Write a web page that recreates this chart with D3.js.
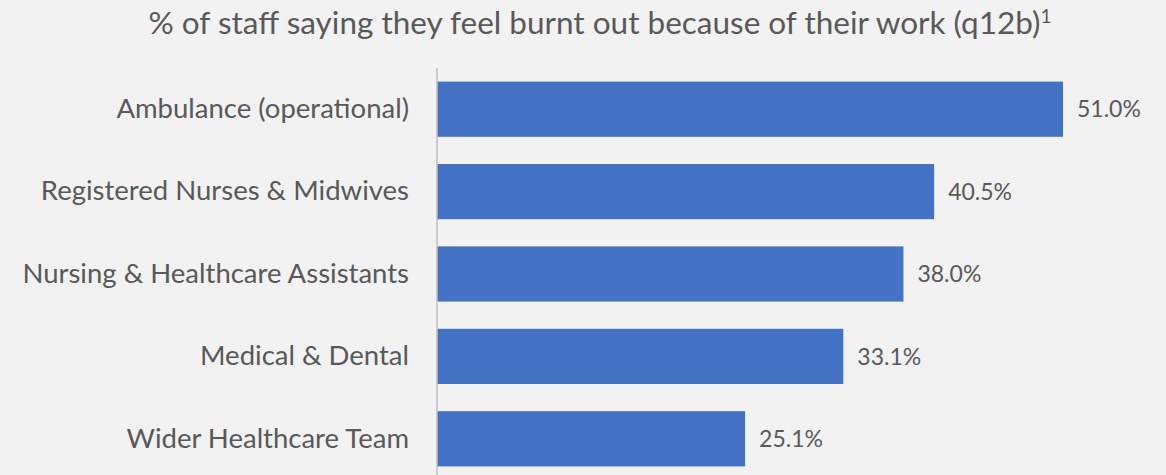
<!DOCTYPE html>
<html>
<head>
<meta charset="utf-8">
<script src="https://cdn.jsdelivr.net/npm/d3@7"></script>
<style>
  body { margin: 0; background: #f2f2f2; }
  text { font-family: Lato, sans-serif; fill: #595959; }
</style>
</head>
<body>
<script>
let width = 1166;
let height = 475;

let categories = ["Ambulance (operational)", "Registered Nurses & Midwives", "Nursing & Healthcare Assistants", "Medical & Dental", "Wider Healthcare Team"];
let values = [51.0, 40.5, 38.0, 33.1, 25.1];
let title = "% of staff saying they feel burnt out because of their work (q12b)";

let svg = d3.select("body").append("svg").attr("width", width).attr("height", height);

svg.append("rect").attr("width", width).attr("height", height).attr("fill", "#f2f2f2");

let x = d3.scaleLinear().domain([0, 60]).range([437, 1173.5]);
let y = d3.scaleBand().domain(categories).range([68, 480]).paddingInner(0.33).paddingOuter(0.165);

let t = svg.append("text")
  .attr("x", 600)
  .attr("y", 34)
  .attr("text-anchor", "middle")
  .style("font-size", "31.5px")
  .text(title);
t.append("tspan").attr("dy", -11).style("font-size", "19px").text("1");

svg.selectAll(".bar")
  .data(values)
  .enter()
  .append("rect")
  .attr("class", "bar")
  .attr("x", x(0))
  .attr("y", (d, i) => y(categories[i]))
  .attr("width", d => x(d) - x(0))
  .attr("height", y.bandwidth())
  .attr("fill", "#4472c4");

svg.selectAll(".val")
  .data(values)
  .enter()
  .append("text")
  .attr("class", "val")
  .attr("x", d => x(d) + 14)
  .attr("y", (d, i) => y(categories[i]) + y.bandwidth() / 2)
  .attr("dy", "0.36em")
  .style("font-size", "23px")
  .text(d => d.toFixed(1) + "%");

let yAxis = svg.append("g")
  .attr("transform", "translate(" + x(0) + ",0)")
  .call(d3.axisLeft(y).tickSize(0).tickPadding(28));
yAxis.select(".domain").remove();
yAxis.selectAll("text")
  .style("font-size", "27.5px")
  .style("font-family", "Lato, sans-serif")
  .attr("fill", "#595959");

svg.append("line")
  .attr("x1", x(0)).attr("x2", x(0))
  .attr("y1", 68).attr("y2", height)
  .attr("stroke", "#bfbfbf")
  .attr("stroke-width", 1.5);
</script>
</body>
</html>
